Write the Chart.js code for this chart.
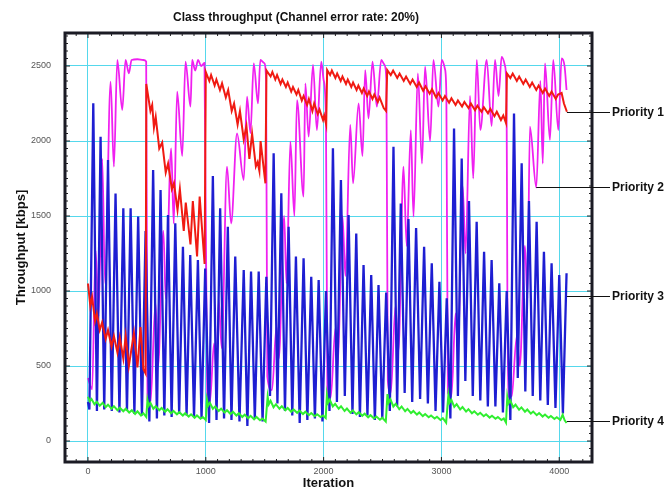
<!DOCTYPE html>
<html>
<head>
<meta charset="utf-8">
<script src="https://cdn.jsdelivr.net/npm/chart.js@4.4.1/dist/chart.umd.min.js"></script>
<style>
  html, body { margin: 0; padding: 0; background: #fff; }
  #wrap { width: 666px; height: 491px; }
</style>
</head>
<body>
<div id="wrap"><canvas id="chart" width="666" height="491"></canvas></div>
<script>
// [iteration, kbps]
const priority1 = [
  [0,1050],[20,900],[35,960],[60,800],[75,850],[100,740],[120,790],[150,680],[170,740],[200,630],[220,700],[250,590],[270,690],[300,550],[320,700],[347,500],[390,720],[420,490],[446,760],[470,480],[489,450],[495,2380],
  [530,2200],[545,2240],[560,2090],[575,2160],[605,1950],[630,1990],[660,1790],[680,1850],[712,1680],[730,1720],[760,1540],[780,1680],[813,1400],[830,1590],[870,1310],[890,1600],[926,1230],[948,1630],[990,1180],[1000,2460],
  [1030,2400],[1045,2440],[1075,2370],[1090,2410],[1120,2340],[1138,2384],[1170,2290],[1190,2340],[1220,2200],[1240,2250],[1270,2110],[1290,2200],[1322,2010],[1345,2100],[1370,1880],[1393,2050],[1425,1830],[1440,1860],[1455,1800],[1465,2000],[1506,1718],[1515,2470],
  [1550,2430],[1565,2460],[1590,2410],[1605,2440],[1635,2380],[1650,2410],[1680,2360],[1695,2390],[1725,2330],[1740,2360],[1770,2310],[1785,2340],[1815,2270],[1830,2300],[1860,2240],[1875,2280],[1905,2200],[1920,2250],[1950,2180],[1965,2210],[1995,2140],[2005,2170],[2022,2110],[2030,2473],
  [2055,2440],[2070,2470],[2100,2420],[2115,2450],[2145,2400],[2160,2430],[2190,2380],[2205,2410],[2235,2360],[2250,2390],[2280,2340],[2295,2370],[2325,2320],[2340,2350],[2370,2300],[2385,2330],[2415,2280],[2430,2310],[2460,2260],[2475,2290],[2510,2220],[2530,2200],[2540,2473],
  [2570,2440],[2590,2470],[2625,2420],[2645,2450],[2680,2400],[2700,2430],[2735,2380],[2755,2410],[2790,2360],[2810,2390],[2845,2335],[2865,2365],[2900,2315],[2920,2345],[2955,2290],[2975,2320],[3010,2270],[3030,2300],[3065,2255],[3085,2285],[3120,2240],[3140,2270],[3175,2230],[3195,2260],[3230,2220],[3250,2250],[3285,2205],[3305,2235],[3340,2195],[3360,2225],[3395,2185],[3415,2215],[3450,2165],[3470,2195],[3505,2140],[3525,2170],[3548,2120],[3556,2451],
  [3585,2420],[3605,2450],[3640,2400],[3660,2430],[3695,2380],[3715,2410],[3750,2360],[3770,2390],[3805,2340],[3825,2370],[3860,2320],[3880,2350],[3915,2300],[3935,2330],[3970,2280],[3990,2310],[4020,2320],[4040,2250],[4065,2195]
];

const priority2 = [
  [0,420],[35,345],[65,1270],[90,830],[121,1880],[145,1050],[192,2395],[220,1829],[249,2540],[291,2207],[319,2540],[347,2451],[370,2540],[420,2545],[470,2540],[494,2530],[505,270],
  [530,250],[573,920],[595,500],[640,1400],[660,950],[706,1951],[728,1450],[757,2329],[800,1900],[828,2529],[870,2229],[884,2540],[910,2470],[935,2540],[960,2500],[989,2520],[1012,300],
  [1035,260],[1070,650],[1090,450],[1110,940],[1135,620],[1180,1829],[1215,1450],[1265,2050],[1322,1740],[1350,2295],[1379,2053],[1407,2518],[1443,2251],[1463,2540],[1495,2520],[1512,2400],[1522,430],
  [1562,340],[1600,760],[1620,550],[1665,1500],[1685,1050],[1718,1996],[1752,1500],[1774,2273],[1830,1629],[1845,2384],[1873,2029],[1910,2507],[1943,2073],[1980,2529],[2000,2407],[2020,2140],[2032,330],
  [2060,290],[2100,750],[2120,500],[2160,1500],[2185,1100],[2226,2107],[2250,1718],[2297,2251],[2330,1900],[2353,2473],[2381,2150],[2415,2529],[2452,2229],[2489,2540],[2515,2510],[2533,2400],[2545,400],
  [2570,320],[2610,900],[2635,600],[2678,1829],[2705,1300],[2740,2073],[2763,1496],[2800,2450],[2835,1850],[2861,2495],[2904,2000],[2932,2540],[2975,2229],[3003,2540],[3030,2480],[3042,2300],[3055,320],
  [3085,300],[3120,850],[3140,600],[3180,1700],[3205,1250],[3243,2300],[3270,1750],[3300,2540],[3330,2073],[3384,2540],[3426,2100],[3455,2540],[3485,2300],[3511,2560],[3540,2500],[3552,2300],[3565,295],
  [3596,300],[3640,700],[3665,500],[3709,1300],[3730,950],[3751,2095],[3805,1690],[3840,2400],[3860,1850],[3879,2518],[3921,2007],[3949,2540],[3992,2073],[4020,2551],[4045,2500],[4062,2340]
];

const priority3 = [
  [0,260],[12,210],[45,2251],[76,200],[107,2029],[138,210],[170,1873],[202,200],[234,1650],[267,190],[300,1551],[331,200],[362,1551],[394,180],[426,1496],[458,170],[489,1400],[521,130],
  [553,1807],[585,150],[616,1673],[648,170],[679,1507],[710,160],[741,1451],[774,180],[806,1295],[837,170],[868,1240],[900,160],[933,1207],[964,150],[995,1150],[1028,120],
  [1060,1767],[1091,140],[1122,1551],[1155,150],[1187,1429],[1218,140],[1250,1229],[1286,130],[1322,1140],[1353,100],[1384,1129],[1416,150],[1449,1129],[1482,130],[1514,1095],[1545,300],
  [1576,1918],[1608,250],[1641,1651],[1672,200],[1703,1429],[1734,170],[1765,1229],[1797,120],[1830,1218],[1862,140],[1895,1095],[1926,150],[1958,1073],[1990,130],[2020,1000],[2050,200],
  [2079,1951],[2113,260],[2147,1740],[2180,300],[2212,1507],[2245,180],[2277,1384],[2308,160],[2339,1173],[2372,170],[2404,1107],[2435,140],[2466,1040],[2498,150],[2531,990],[2562,200],
  [2593,1962],[2624,230],[2655,1584],[2688,320],[2720,1480],[2752,260],[2785,1420],[2819,280],[2853,1295],[2885,250],[2918,1184],[2950,200],[2983,1062],[3014,190],[3045,951],[3076,150],
  [3107,2084],[3140,300],[3172,1884],[3203,400],[3234,1600],[3266,300],[3299,1462],[3330,270],[3362,1262],[3394,230],[3426,1207],[3458,230],[3491,1051],[3522,190],[3554,1000],[3585,140],
  [3616,2184],[3648,420],[3681,1851],[3712,330],[3743,1600],[3775,300],[3808,1462],[3839,270],[3870,1262],[3903,240],[3935,1184],[3968,220],[4000,1107],[4031,184],[4062,1118]
];

const priority4 = [
  [0,295],[15,265],[30,280],[55,245],[75,262],[100,235],[125,255],[150,225],[170,242],[200,215],[220,232],[250,205],[270,222],[300,198],[320,215],[350,190],[372,205],[400,180],[420,198],[450,170],[470,185],[495,160],
  [505,273],[515,235],[530,255],[555,215],[575,232],[605,205],[625,220],[655,195],[675,212],[705,185],[725,200],[755,178],[775,192],[805,170],[825,185],[855,163],[875,178],[905,155],[925,170],[955,148],[975,160],[1000,140],
  [1010,275],[1020,235],[1035,255],[1060,215],[1080,230],[1110,200],[1130,216],[1160,190],[1180,205],[1210,180],[1230,195],[1260,170],[1280,185],[1310,160],[1330,176],[1360,152],[1380,168],[1410,145],[1430,160],[1460,138],[1480,150],[1508,129],
  [1525,296],[1535,245],[1550,268],[1575,225],[1595,245],[1625,215],[1645,232],[1675,205],[1695,220],[1725,195],[1745,210],[1775,188],[1795,202],[1825,180],[1845,195],[1875,172],[1895,186],[1925,165],[1945,178],[1975,160],[1995,170],[2018,153],
  [2028,307],[2038,255],[2052,275],[2078,230],[2098,248],[2128,215],[2148,232],[2178,200],[2198,216],[2228,188],[2248,204],[2278,178],[2298,192],[2328,168],[2348,182],[2378,158],[2398,172],[2428,150],[2448,163],[2478,142],[2498,155],[2528,129],
  [2542,313],[2552,255],[2567,278],[2592,230],[2612,248],[2642,212],[2662,230],[2692,198],[2712,214],[2742,186],[2762,200],[2792,176],[2812,190],[2842,166],[2862,180],[2892,158],[2912,170],[2942,150],[2962,162],[2992,140],[3012,152],[3040,122],
  [3059,307],[3069,255],[3084,275],[3109,228],[3129,246],[3159,210],[3179,226],[3209,196],[3229,212],[3259,185],[3279,198],[3309,175],[3329,188],[3359,165],[3379,178],[3409,156],[3429,168],[3459,148],[3479,160],[3509,140],[3529,150],[3548,122],
  [3559,295],[3569,250],[3584,270],[3609,225],[3629,242],[3659,208],[3679,224],[3709,195],[3729,210],[3759,183],[3779,196],[3809,172],[3829,186],[3859,163],[3879,176],[3909,155],[3929,167],[3959,147],[3979,158],[4009,140],[4029,175],[4045,140],[4062,120]
];

const seriesNames = ['Priority 1', 'Priority 2', 'Priority 3', 'Priority 4'];
// where each label's leader line touches its curve
const leaderPoints = [[4065,2195],[3805,1690],[4065,967],[4065,133]];
const xTicks = [0, 1000, 2000, 3000, 4000];
const yTicks = [0, 500, 1000, 1500, 2000, 2500];

const toXY = arr => arr.map(([x, y]) => ({ x, y }));
const FONT = '"Liberation Sans", Arial, sans-serif';

// frame, small inner ticks and the "Priority n" call-outs
const decorations = {
  id: 'decorations',
  afterDatasetsDraw(chart) {
    const { ctx, chartArea: a, scales: { x, y } } = chart;
    ctx.save();
    ctx.strokeStyle = '#222';
    ctx.lineWidth = 1;
    ctx.beginPath();
    for (let v = -100; v <= 4200; v += 100) {
      const px = x.getPixelForValue(v);
      if (px <= a.left || px >= a.right) continue;
      const len = v % 1000 === 0 ? 5 : 3;
      ctx.moveTo(px, a.bottom); ctx.lineTo(px, a.bottom - len);
      ctx.moveTo(px, a.top); ctx.lineTo(px, a.top + len);
    }
    for (let v = -100; v <= 2700; v += 50) {
      const py = y.getPixelForValue(v);
      if (py <= a.top || py >= a.bottom) continue;
      const len = v % 500 === 0 ? 5 : 3;
      ctx.moveTo(a.left, py); ctx.lineTo(a.left + len, py);
      ctx.moveTo(a.right, py); ctx.lineTo(a.right - len, py);
    }
    ctx.stroke();

    ctx.strokeStyle = '#1b1b24';
    ctx.lineWidth = 3;
    ctx.strokeRect(a.left, a.top, a.right - a.left, a.bottom - a.top);

    ctx.strokeStyle = '#111';
    ctx.lineWidth = 1.2;
    ctx.fillStyle = '#111';
    ctx.font = 'bold 12px ' + FONT;
    ctx.textBaseline = 'middle';
    leaderPoints.forEach(([lx, ly], i) => {
      const px = x.getPixelForValue(lx);
      const py = Math.round(y.getPixelForValue(ly)) + 0.5;
      ctx.beginPath();
      ctx.moveTo(px, py);
      ctx.lineTo(a.right + 18, py);
      ctx.stroke();
      ctx.fillText(seriesNames[i], a.right + 20, py);
    });
    ctx.restore();
  }
};

new Chart(document.getElementById('chart'), {
  type: 'line',
  data: {
    datasets: [
      { label: seriesNames[0], data: toXY(priority1), borderColor: '#f01a12', borderWidth: 2, order: 1 },
      { label: seriesNames[1], data: toXY(priority2), borderColor: '#f020f0', borderWidth: 1.8, order: 3, cubicInterpolationMode: 'monotone' },
      { label: seriesNames[2], data: toXY(priority3), borderColor: '#1e1ed2', borderWidth: 2.3, order: 2 },
      { label: seriesNames[3], data: toXY(priority4), borderColor: '#30ee30', borderWidth: 2, order: 0 }
    ]
  },
  options: {
    responsive: false,
    animation: false,
    events: [],
    elements: { point: { radius: 0 }, line: { tension: 0, fill: false } },
    layout: { padding: { left: 0, right: 74, top: 0, bottom: 0 } },
    plugins: {
      legend: { display: false },
      tooltip: { enabled: false },
      title: {
        display: true,
        text: 'Class throughput (Channel error rate: 20%)',
        color: '#111',
        font: { family: FONT, size: 12, weight: 'bold', lineHeight: 1.2 },
        padding: { top: 10, bottom: 8.6 }
      }
    },
    scales: {
      x: {
        type: 'linear',
        min: -195,
        max: 4278,
        afterBuildTicks: s => { s.ticks = xTicks.map(v => ({ value: v })); },
        afterFit: s => { s.height = 29; },
        ticks: { color: '#555', font: { family: FONT, size: 9 }, padding: 4, maxRotation: 0, callback: v => String(v) },
        grid: { color: '#55d8ec', lineWidth: 1, drawTicks: false },
        border: { display: false },
        title: {
          display: true, text: 'Iteration', color: '#111',
          font: { family: FONT, size: 13, weight: 'bold', lineHeight: 1.2 },
          padding: { top: 0, bottom: 0 }
        }
      },
      y: {
        type: 'linear',
        min: -140,
        max: 2720,
        afterBuildTicks: s => { s.ticks = yTicks.map(v => ({ value: v })); },
        afterFit: s => { s.width = 65; },
        ticks: { color: '#555', font: { family: FONT, size: 9 }, padding: 14, callback: v => String(v) },
        grid: { color: '#55d8ec', lineWidth: 1, drawTicks: false },
        border: { display: false },
        title: {
          display: true, text: 'Throughput [kbps]', color: '#111',
          font: { family: FONT, size: 13, weight: 'bold', lineHeight: 1.2 },
          padding: { top: 14, bottom: 0 }
        }
      }
    }
  },
  plugins: [decorations]
});
</script>
</body>
</html>
